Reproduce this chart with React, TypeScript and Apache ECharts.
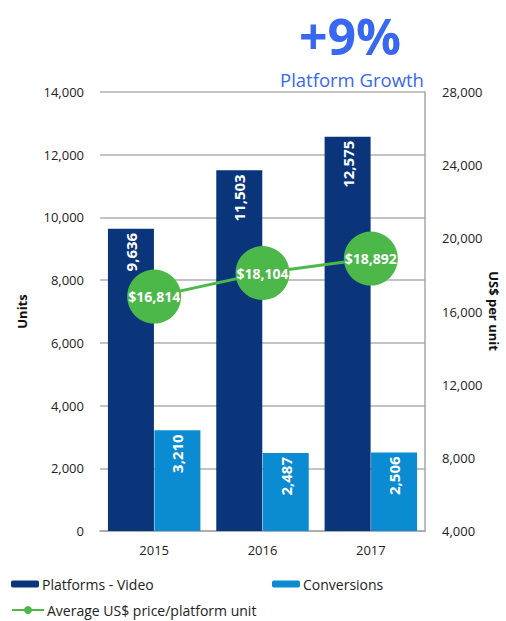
import React, { useEffect, useRef } from "react";
import * as echarts from "echarts";

const categories = ["2015", "2016", "2017"];
const platformsVideo = [9636, 11503, 12575];
const conversions = [3210, 2487, 2506];
const avgPrice = [16814, 18104, 18892];

const FONT = "'Open Sans', 'Noto Sans', sans-serif";
const fmt = (v: number) => v.toLocaleString("en-US");

export default function App() {
  const ref = useRef<HTMLDivElement>(null);
  useEffect(() => {
    if (!ref.current) return;
    document.documentElement.style.overflow = "hidden";
    document.body.style.overflow = "hidden";
    document.body.style.margin = "0";
    const chart = echarts.init(ref.current, undefined, { renderer: "svg", width: 506, height: 621 });
    chart.setOption({
      animation: false,
      textStyle: { fontFamily: FONT },
      grid: { left: 100, right: 81, top: 92, bottom: 90, outerBoundsMode: "none", containLabel: false },
      title: [
        {
          text: "+9%",
          left: 350,
          top: 12,
          padding: 0,
          textAlign: "center",
          textStyle: { fontFamily: FONT, fontSize: 50, lineHeight: 48, fontWeight: "bold", color: "#3868f0" },
        },
        {
          text: "Platform Growth",
          left: 352,
          top: 69,
          padding: 0,
          textAlign: "center",
          textStyle: { fontFamily: FONT, fontSize: 18.5, lineHeight: 20, fontWeight: "normal", color: "#3868f0" },
        },
      ],
      graphic: [
        {
          type: "text",
          x: 494,
          y: 311,
          rotation: -Math.PI / 2,
          style: {
            text: "US$ per unit",
            fontFamily: FONT,
            fontSize: 13,
            fontWeight: "bold",
            fill: "#111",
            align: "center",
            verticalAlign: "middle",
          },
        },
      ],
      legend: [
        {
          data: ["Platforms - Video"],
          left: 6,
          top: 572,
          itemWidth: 28,
          itemHeight: 7,
          itemGap: 6,
          textStyle: { fontFamily: FONT, fontSize: 14, color: "#222", padding: [0, 0, 0, -2] },
        },
        {
          data: ["Conversions"],
          left: 267,
          top: 572,
          itemWidth: 28,
          itemHeight: 7,
          textStyle: { fontFamily: FONT, fontSize: 14, color: "#222", padding: [0, 0, 0, -2] },
        },
        {
          data: ["Average US$ price/platform unit"],
          left: 6,
          top: 601,
          padding: [2, 5, 2, 5],
          itemWidth: 32,
          itemHeight: 10,
          textStyle: { fontFamily: FONT, fontSize: 14, color: "#222", padding: [0, 0, 0, -2] },
        },
      ],
      xAxis: {
        type: "category",
        data: categories,
        axisLine: { show: true, lineStyle: { color: "#a6a6a6", width: 1.5 } },
        axisTick: { show: false },
        axisLabel: { fontFamily: FONT, fontSize: 13, color: "#222", margin: 12 },
      },
      yAxis: [
        {
          type: "value",
          min: 0,
          max: 14000,
          interval: 2000,
          name: "Units",
          nameLocation: "middle",
          nameGap: 72,
          nameRotate: 90,
          nameTextStyle: { fontFamily: FONT, fontSize: 13, fontWeight: "bold", color: "#111" },
          axisLine: { show: false },
          axisTick: { show: false },
          axisLabel: { fontFamily: FONT, fontSize: 13, color: "#222", margin: 16, formatter: fmt },
          splitLine: { lineStyle: { color: "#b0b0b0", width: 1.5 } },
        },
        {
          type: "value",
          min: 4000,
          max: 28000,
          interval: 4000,
          axisLine: { show: true, lineStyle: { color: "#a6a6a6", width: 1.5 } },
          axisTick: { show: false },
          axisLabel: { fontFamily: FONT, fontSize: 13, color: "#222", margin: 17, formatter: fmt },
          splitLine: { show: false },
        },
      ],
      series: [
        {
          name: "Platforms - Video",
          type: "bar",
          data: platformsVideo,
          barWidth: 46,
          barGap: "1%",
          itemStyle: { color: "#0a357a" },
          label: {
            show: true,
            position: "insideTop",
            rotate: 90,
            align: "right",
            verticalAlign: "middle",
            distance: 4,
            formatter: (p: any) => fmt(p.value),
            color: "#fff",
            fontFamily: FONT,
            fontSize: 15,
            fontWeight: "bold",
          },
        },
        {
          name: "Conversions",
          type: "bar",
          data: conversions,
          barWidth: 46,
          itemStyle: { color: "#0a8bd2" },
          label: {
            show: true,
            position: "insideTop",
            rotate: 90,
            align: "right",
            verticalAlign: "middle",
            distance: 4,
            formatter: (p: any) => fmt(p.value),
            color: "#fff",
            fontFamily: FONT,
            fontSize: 15,
            fontWeight: "bold",
          },
        },
        {
          name: "Average US$ price/platform unit",
          type: "line",
          yAxisIndex: 1,
          data: avgPrice,
          symbol: "circle",
          symbolSize: 54,
          z: 5,
          lineStyle: { color: "#4cb84a", width: 3 },
          itemStyle: { color: "#4cb84a" },
          label: {
            show: true,
            position: "inside",
            formatter: (p: any) => "$" + fmt(p.value),
            color: "#fff",
            fontFamily: FONT,
            fontSize: 14,
            fontWeight: "bold",
          },
        },
      ],
    });
    return () => chart.dispose();
  }, []);
  return (
    <div
      ref={ref}
      style={{ position: "fixed", left: 0, top: 0, width: 506, height: 621, background: "#fff" }}
    />
  );
}
